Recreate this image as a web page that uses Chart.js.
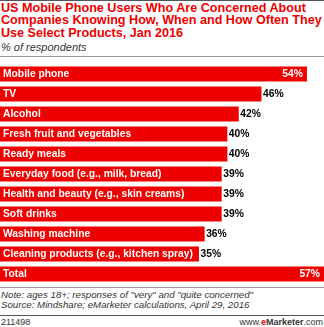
<!DOCTYPE html>
<html>
<head>
<meta charset="utf-8">
<script src="https://cdn.jsdelivr.net/npm/chart.js@4"></script>
<style>
  html, body { margin: 0; padding: 0; background: #fff; }
  body { width: 324px; height: 327px; position: relative; overflow: hidden; font-family: "Liberation Sans", Arial, sans-serif; }
  .topline { position: absolute; left: 0; top: 0; width: 324px; height: 1px; background: #555; }
  .title { position: absolute; left: 1px; top: 2px; color: #ee0000; font-weight: bold; font-size: 12.6px; line-height: 12.3px; white-space: nowrap; }
  .sub { position: absolute; left: 1px; top: 41px; color: #333; font-style: italic; font-size: 11px; }
  .sep { position: absolute; left: 0; width: 324px; height: 1px; background: #999; }
  .note { position: absolute; left: 1px; top: 290px; color: #333; font-style: italic; font-size: 9.7px; line-height: 9.5px; white-space: nowrap; }
  .foot { position: absolute; top: 317px; font-size: 9px; color: #333; }
  #wrap { position: absolute; left: 0; top: 64px; width: 324px; height: 220px; }
</style>
</head>
<body>
<div class="topline"></div>
<div class="title">US Mobile Phone Users Who Are Concerned About<br>Companies Knowing How, When and How Often They<br>Use Select Products, Jan 2016</div>
<div class="sub">% of respondents</div>
<div class="sep" style="top:56px"></div>
<div id="wrap"><canvas id="chart"></canvas></div>
<div class="sep" style="top:287px"></div>
<div class="note">Note: ages 18+; responses of "very" and "quite concerned"<br>Source: Mindshare; eMarketer calculations, April 29, 2016</div>
<div class="sep" style="top:315px; background:#555"></div>
<div class="foot" style="left:1px">211498</div>
<div class="foot" style="right:1px">www.<b style="color:#ee0000">e</b><b>Marketer</b>.com</div>
<script>
const categories = [
    "Mobile phone",
    "TV",
    "Alcohol",
    "Fresh fruit and vegetables",
    "Ready meals",
    "Everyday food (e.g., milk, bread)",
    "Health and beauty (e.g., skin creams)",
    "Soft drinks",
    "Washing machine",
    "Cleaning products (e.g., kitchen spray)",
    "Total"
];
const values = [54, 46, 42, 40, 40, 39, 39, 39, 36, 35, 57];

const barRed = "#ee0000";
const labelFont = "bold 10.3px 'Liberation Sans', Arial, sans-serif";

// draws category names inside the bars and the % values next to them
const barLabels = {
    id: "barLabels",
    afterDatasetsDraw(chart) {
        const ctx = chart.ctx;
        const meta = chart.getDatasetMeta(0);
        const right = chart.chartArea.right;
        ctx.save();
        ctx.font = labelFont;
        ctx.textBaseline = "middle";
        meta.data.forEach((bar, i) => {
            ctx.fillStyle = "#fff";
            ctx.textAlign = "left";
            ctx.fillText(categories[i], 3, bar.y + 0.5);

            let txt = values[i] + "%";
            let w = ctx.measureText(txt).width;
            if(bar.x + 2 + w > right) {
                ctx.fillStyle = "#fff";
                ctx.textAlign = "right";
                ctx.fillText(txt, bar.x - 4, bar.y + 0.5);
            } else {
                ctx.fillStyle = "#000";
                ctx.textAlign = "left";
                ctx.fillText(txt, bar.x + 1.5, bar.y + 0.5);
            }
        });
        ctx.restore();
    }
};

new Chart(document.getElementById("chart"), {
    type: "bar",
    data: {
        labels: categories,
        datasets: [{
            data: values,
            backgroundColor: barRed,
            borderWidth: 0,
            barPercentage: 0.75,
            categoryPercentage: 1
        }]
    },
    options: {
        indexAxis: "y",
        animation: false,
        responsive: true,
        maintainAspectRatio: false,
        layout: { padding: 0 },
        plugins: {
            legend: { display: false },
            tooltip: { enabled: false }
        },
        scales: {
            x: { display: false, min: 0, max: 57 },
            y: { display: false }
        }
    },
    plugins: [barLabels]
});
</script>
</body>
</html>
